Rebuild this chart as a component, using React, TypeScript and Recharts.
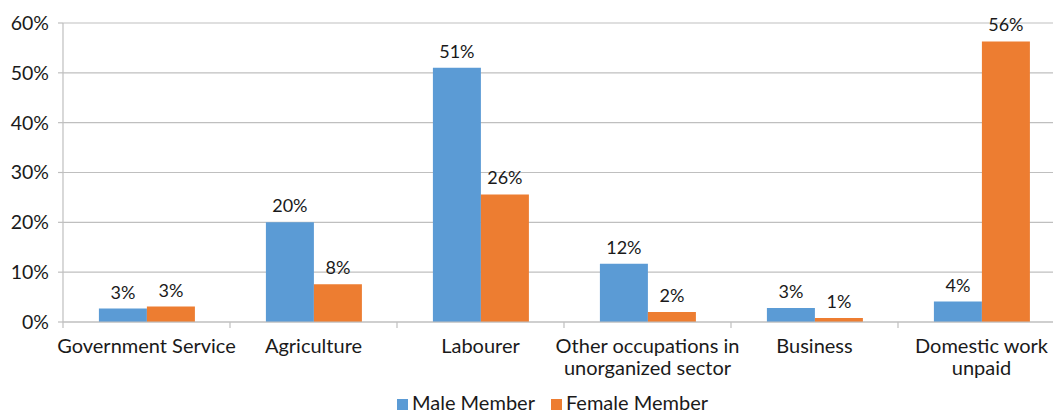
import React from 'react';
import { BarChart, Bar, XAxis, YAxis, CartesianGrid, Legend, LabelList } from 'recharts';

const categories = [
  'Government Service',
  'Agriculture',
  'Labourer',
  'Other occupations in\nunorganized sector',
  'Business',
  'Domestic work\nunpaid',
];
const maleMember = [2.7, 20, 51, 11.7, 2.8, 4.1];
const femaleMember = [3.1, 7.6, 25.6, 2.0, 0.8, 56.3];
const yTicks = [0, 10, 20, 30, 40, 50, 60];

const data = categories.map((name, i) => ({
  name,
  male: maleMember[i],
  female: femaleMember[i],
}));

const FONT = 'Lato, "Noto Sans", sans-serif';
const CHART_W = 1070;
const Y_AXIS_W = 63;
const RIGHT = 5;
const STEP = (CHART_W - Y_AXIS_W - RIGHT) / categories.length;
const SERIES_ORDER = ['male', 'female'];

const CategoryTick = (props: any) => {
  const { x, y, payload } = props;
  const lines = String(payload.value).split('\n');
  const bx = x - STEP / 2;
  return (
    <g>
      <line x1={bx} x2={bx} y1={y} y2={y + 6} stroke="#bfbfbf" strokeWidth={1.2} />
      <text x={x} y={y} textAnchor="middle" fill="#1a1a1a" fontSize={20} fontFamily={FONT}>
        {lines.map((l, i) => (
          <tspan key={i} x={x} dy={i === 0 ? 31 : 22}>
            {l}
          </tspan>
        ))}
      </text>
    </g>
  );
};

const pct = (v: any) => `${Math.round(Number(v))}%`;

export default function App() {
  return (
    <div style={{ position: 'absolute', left: 0, top: 0, width: 1053, height: 417, overflow: 'hidden', background: '#fff' }}>
      <BarChart
        width={CHART_W}
        height={440}
        data={data}
        margin={{ top: 23, right: RIGHT, left: 0, bottom: 0 }}
        barCategoryGap="21.5%"
        barGap={0}
        style={{ fontFamily: FONT }}
      >
        <CartesianGrid vertical={false} stroke="#bfbfbf" strokeWidth={1.2} />
        <XAxis
          dataKey="name"
          interval={0}
          height={94}
          tickSize={0}
          tickMargin={0}
          tickLine={false}
          axisLine={{ stroke: '#bfbfbf', strokeWidth: 1.2 }}
          tick={<CategoryTick />}
        />
        <YAxis
          width={Y_AXIS_W}
          domain={[0, 60]}
          ticks={yTicks}
          interval={0}
          tickFormatter={(v: number) => `${v}%`}
          tickSize={5}
          tickMargin={9}
          axisLine={{ stroke: '#bfbfbf', strokeWidth: 1.2 }}
          tickLine={{ stroke: '#bfbfbf', strokeWidth: 1.2 }}
          tick={{ fontSize: 19.5, fill: '#1a1a1a', fontFamily: FONT }}
        />
        <Legend
          iconType="square"
          iconSize={11}
          itemSorter={(item: any) => SERIES_ORDER.indexOf(item.dataKey)}
          wrapperStyle={{ top: 390, left: 397, width: 'auto', fontSize: 20, lineHeight: '24px', color: '#1a1a1a', fontFamily: FONT }}
          formatter={(value: string, entry: any) => (
            <span style={{ color: '#1a1a1a', marginRight: entry.dataKey === 'male' ? 6 : 0 }}>{value}</span>
          )}
        />
        <Bar dataKey="male" name="Male Member" fill="#5b9bd5" isAnimationActive={false}>
          <LabelList dataKey="male" position="top" offset={10} formatter={pct} fontSize={18} fill="#1a1a1a" fontFamily={FONT} />
        </Bar>
        <Bar dataKey="female" name="Female Member" fill="#ed7d31" isAnimationActive={false}>
          <LabelList dataKey="female" position="top" offset={10} formatter={pct} fontSize={18} fill="#1a1a1a" fontFamily={FONT} />
        </Bar>
      </BarChart>
    </div>
  );
}
